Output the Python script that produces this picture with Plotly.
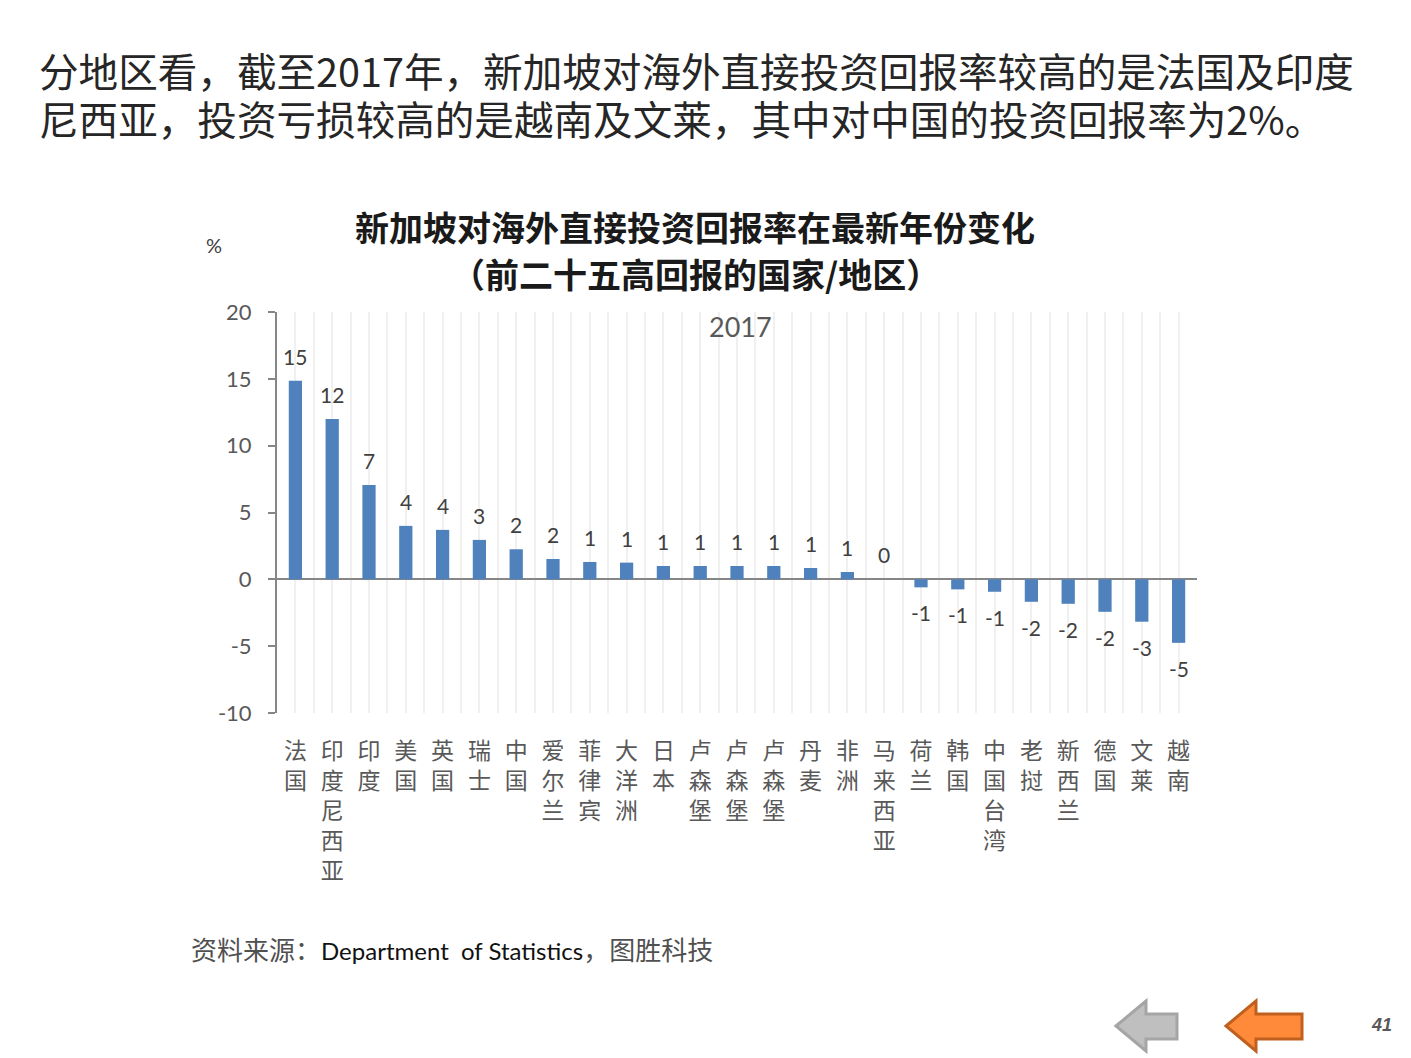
import plotly.graph_objects as go

W, H = 1411, 1058

countries = ["法国", "印度尼西亚", "印度", "美国", "英国", "瑞士", "中国", "爱尔兰", "菲律宾",
             "大洋洲", "日本", "卢森堡", "卢森堡", "卢森堡", "丹麦", "非洲", "马来西亚", "荷兰",
             "韩国", "中国台湾", "老挝", "新西兰", "德国", "文莱", "越南"]
returns_2017 = [14.85, 12.0, 7.05, 4.0, 3.7, 2.95, 2.25, 1.52, 1.3,
                1.25, 1.0, 1.0, 1.0, 1.0, 0.85, 0.55, 0.0, -0.6,
                -0.75, -0.93, -1.68, -1.83, -2.43, -3.17, -4.75]
y_ticks = [-10, -5, 0, 5, 10, 15, 20]

headline = ["分地区看，截至2017年，新加坡对海外直接投资回报率较高的是法国及印度",
            "尼西亚，投资亏损较高的是越南及文莱，其中对中国的投资回报率为2%。"]
chart_title = ["新加坡对海外直接投资回报率在最新年份变化", "（前二十五高回报的国家/地区）"]

CJK = "Noto Sans CJK SC"
NUM = "Lato, Noto Sans CJK SC"


def px(x, y):
    # pixel position on the page -> paper coordinates
    return x / W, 1 - y / H


def note(x, y, text, size, color, family=NUM, xanchor="center"):
    u, v = px(x, y)
    fig.add_annotation(x=u, y=v, xref="paper", yref="paper", text=text, showarrow=False,
                       xanchor=xanchor, yanchor="middle",
                       font=dict(family=family, size=size, color=color))


idx = list(range(len(countries)))
fig = go.Figure()
fig.add_trace(go.Bar(
    x=idx, y=returns_2017, width=0.36,
    marker=dict(color="#4F81BD", line=dict(width=0)),
    hoverinfo="y",
))

# data labels, rounded like the source chart
for i, v in zip(idx, returns_2017):
    fig.add_annotation(
        x=i, y=v, xref="x", yref="y", text=f"{v:.0f}",
        showarrow=False, yanchor="bottom" if v >= 0 else "top",
        yshift=10 if v >= 0 else -11,
        font=dict(family=NUM, size=21, color="#404040"),
    )

fig.update_layout(
    width=W, height=H,
    margin=dict(l=0, r=0, t=0, b=0, autoexpand=False),
    paper_bgcolor="white", plot_bgcolor="white",
    showlegend=False,
    xaxis=dict(
        domain=[277 / W, 1197 / W], range=[-0.5, len(countries) - 0.5],
        tickvals=idx, ticktext=["<br>".join(c) for c in countries],
        tickfont=dict(family=CJK, size=23, color="#595959"),
        ticks="", showline=False, zeroline=False, automargin=False,
        showgrid=True, gridcolor="#F0F0F0", gridwidth=2,
        minor=dict(tickvals=[i - 0.5 for i in idx] + [len(countries) - 0.5],
                   showgrid=True, gridcolor="#F0F0F0", gridwidth=2, ticks=""),
        ticklabelstandoff=22, fixedrange=True,
    ),
    yaxis=dict(
        domain=[1 - 713 / H, 1 - 312 / H], range=[-10, 20],
        tickvals=y_ticks, ticktext=[str(t) for t in y_ticks], showgrid=False,
        zeroline=True, zerolinecolor="#868686", zerolinewidth=2,
        showline=True, linecolor="#868686", linewidth=2, automargin=False,
        ticks="outside", ticklen=7, tickcolor="#868686", tickwidth=2,
        tickfont=dict(family=NUM, size=22, color="#595959"),
        ticklabelstandoff=12, fixedrange=True,
    ),
)

# headline text
for k, line in enumerate(headline):
    note(37, 70 + 48 * k, line, 39.6, "#262626", family=CJK, xanchor="left")

# chart title
for k, line in enumerate(chart_title):
    note(695, 226 + 47 * k, f"<b>{line}</b>", 34, "#1a1a1a", family=CJK)

note(214, 245, "%", 20, "#404040")
note(740, 327, "2017", 27, "#595959")
note(189, 950,
     "<span style='color:#505050;font-size:26px'>资料来源：</span>Department  of Statistics"
     "<span style='color:#505050;font-size:26px'>，图胜科技</span>",
     24, "#111111", xanchor="left")
note(1381, 1025, "<b><i>41</i></b>", 18, "#595959", family="Liberation Sans")


# navigation arrows (decoration)
def arrow_path(left, right, head_w, top=1001, bottom=1051, shaft_top=1014, shaft_bot=1039):
    mid = (top + bottom) / 2
    pts = [(left, mid), (left + head_w, top), (left + head_w, shaft_top), (right, shaft_top),
           (right, shaft_bot), (left + head_w, shaft_bot), (left + head_w, bottom)]
    s = ""
    for n, (a, b) in enumerate(pts):
        u, v = px(a, b)
        s += ("M" if n == 0 else "L") + f"{u:.5f},{v:.5f} "
    return s + "Z"


fig.add_shape(type="path", xref="paper", yref="paper", path=arrow_path(1116, 1177, 30),
              fillcolor="#BFBFBF", line=dict(color="#A5A5A5", width=3))
fig.add_shape(type="path", xref="paper", yref="paper", path=arrow_path(1226, 1302, 30),
              fillcolor="#FF8A3A", line=dict(color="#C0601E", width=3))

fig.write_html("out.html", config={"displayModeBar": False},
               post_script="document.body.style.margin='0';document.body.style.overflow='hidden';")
